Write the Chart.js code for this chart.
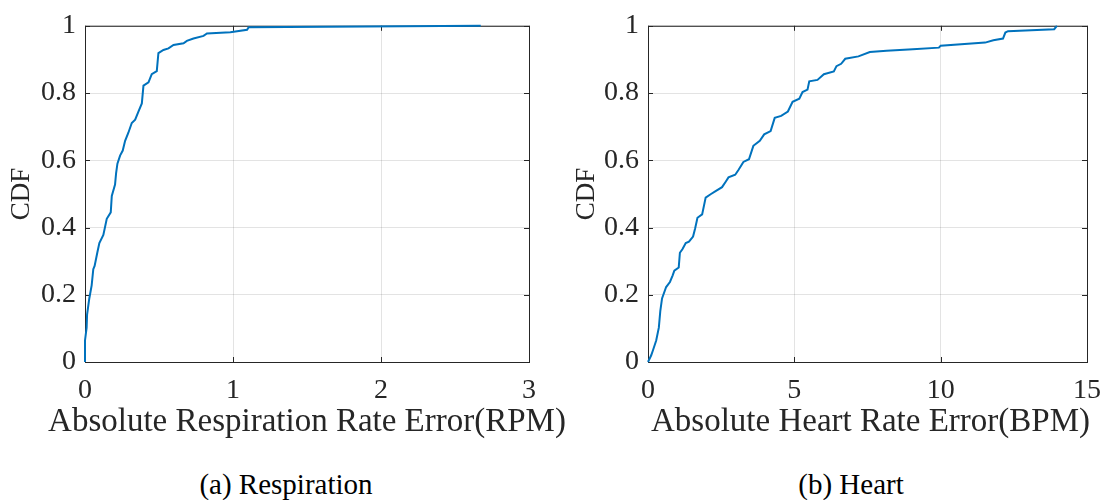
<!DOCTYPE html>
<html>
<head>
<meta charset="utf-8">
<script src="https://cdn.jsdelivr.net/npm/chart.js@4.4.1/dist/chart.umd.min.js"></script>
<style>
  body { margin: 0; background: #fff; width: 1113px; height: 500px; overflow: hidden; position: relative; }
  .panel { position: absolute; top: 0; height: 460px; }
  #respBox { left: 0; width: 580px; }
  #heartBox { left: 560px; width: 553px; }
  .caption {
    position: absolute; top: 470px; transform: translateX(-50%);
    font-family: "Liberation Serif", serif; font-size: 29px; line-height: 29px;
    color: #000; white-space: nowrap;
  }
</style>
</head>
<body>
<div class="panel" id="respBox"><canvas id="respChart"></canvas></div>
<div class="panel" id="heartBox"><canvas id="heartChart"></canvas></div>
<div class="caption" style="left:286px">(a) Respiration</div>
<div class="caption" style="left:851px">(b) Heart</div>

<script>
// sorted absolute errors and their cumulative fraction
const respErr = [0, 0.0, 0.011, 0.014, 0.029, 0.045, 0.056, 0.065, 0.083, 0.097,
  0.124, 0.147, 0.174, 0.181, 0.203, 0.21, 0.219, 0.237, 0.255, 0.271,
  0.293, 0.316, 0.339, 0.361, 0.384, 0.395, 0.429, 0.451, 0.485, 0.496,
  0.53, 0.564, 0.598, 0.666, 0.688, 0.733, 0.801, 0.824, 0.982, 1.095,
  1.106, 2.674];
const respCdf = [0, 0.064, 0.102, 0.141, 0.189, 0.228, 0.276, 0.286, 0.325, 0.354,
  0.378, 0.426, 0.445, 0.494, 0.528, 0.561, 0.59, 0.614, 0.629, 0.658,
  0.682, 0.711, 0.721, 0.745, 0.769, 0.822, 0.832, 0.856, 0.865, 0.919,
  0.928, 0.933, 0.943, 0.948, 0.955, 0.962, 0.97, 0.977, 0.981, 0.988,
  0.996, 1.0];

const heartErr = [0, 0.11, 0.17, 0.28, 0.37, 0.42, 0.48, 0.62, 0.75, 0.84,
  0.90, 1.05, 1.09, 1.18, 1.29, 1.40, 1.54, 1.61, 1.69, 1.85,
  1.97, 2.14, 2.31, 2.53, 2.66, 2.75, 2.98, 3.09, 3.26, 3.45,
  3.60, 3.82, 3.97, 4.19, 4.33, 4.55, 4.78, 4.94, 5.17, 5.28,
  5.45, 5.51, 5.79, 6.01, 6.35, 6.44, 6.60, 6.74, 7.19, 7.58,
  8.15, 9.05, 9.94, 10.0, 11.52, 11.80, 12.13, 12.21, 12.30, 13.88,
  13.97];
const heartCdf = [0, 0.02, 0.035, 0.064, 0.102, 0.151, 0.189, 0.223, 0.238, 0.257,
  0.272, 0.281, 0.325, 0.336, 0.354, 0.358, 0.373, 0.397, 0.429, 0.439,
  0.489, 0.499, 0.508, 0.52, 0.537, 0.549, 0.557, 0.571, 0.595, 0.603,
  0.643, 0.658, 0.677, 0.687, 0.726, 0.732, 0.745, 0.774, 0.783, 0.803,
  0.81, 0.835, 0.839, 0.856, 0.864, 0.88, 0.887, 0.902, 0.909, 0.922,
  0.926, 0.930, 0.935, 0.941, 0.95, 0.957, 0.962, 0.98, 0.984, 0.99,
  1.0];

const cdfTicks = [0, 0.2, 0.4, 0.6, 0.8, 1];
const respTicks = [0, 1, 2, 3];
const heartTicks = [0, 5, 10, 15];

const axisColor = '#262626';
const gridColor = 'rgba(38,38,38,0.13)';
const serif = '"Liberation Serif", serif';

// closed box with short inward tick marks on all four sides
const boxTicks = {
  id: 'boxTicks',
  beforeDatasetsDraw(chart) {
    const { ctx, chartArea: a, scales: { x, y } } = chart;
    const len = 5;
    ctx.save();
    ctx.strokeStyle = axisColor;
    ctx.lineWidth = 1;
    ctx.beginPath();
    x.ticks.forEach(t => {
      const px = Math.round(x.getPixelForValue(t.value)) + 0.5;
      ctx.moveTo(px, a.bottom); ctx.lineTo(px, a.bottom - len);
      ctx.moveTo(px, a.top); ctx.lineTo(px, a.top + len);
    });
    y.ticks.forEach(t => {
      const py = Math.round(y.getPixelForValue(t.value)) + 0.5;
      ctx.moveTo(a.left, py); ctx.lineTo(a.left + len, py);
      ctx.moveTo(a.right, py); ctx.lineTo(a.right - len, py);
    });
    ctx.stroke();
    ctx.strokeRect(a.left + 0.5, a.top + 0.5, a.right - a.left, a.bottom - a.top);
    ctx.restore();
  }
};

// x-axis title drawn at full width, even past the plot edges
const wideTitle = {
  id: 'wideTitle',
  afterDraw(chart, args, opts) {
    const { ctx, chartArea: a } = chart;
    ctx.save();
    ctx.fillStyle = axisColor;
    ctx.font = '33px ' + serif;
    ctx.textAlign = 'center';
    ctx.textBaseline = 'alphabetic';
    ctx.fillText(opts.text, (a.left + a.right) / 2 + (opts.shift || 0), opts.baseline);
    ctx.restore();
  }
};

function makeCdf(id, xs, ys, xTicks, xTitle, yWidth, padRight, yTitlePad, shift) {
  const pts = xs.map((v, i) => ({ x: v, y: ys[i] }));
  return new Chart(document.getElementById(id), {
    type: 'line',
    data: {
      datasets: [{
        data: pts,
        borderColor: '#0072BD',
        borderWidth: 2,
        pointRadius: 0,
        tension: 0,
        clip: false
      }]
    },
    options: {
      responsive: true,
      maintainAspectRatio: false,
      animation: false,
      layout: { padding: { top: 17, right: padRight, left: 0, bottom: 0 } },
      plugins: {
        legend: { display: false },
        tooltip: { enabled: false },
        wideTitle: { text: xTitle, baseline: 431, shift: shift }
      },
      scales: {
        x: {
          type: 'linear',
          min: xTicks[0],
          max: xTicks[xTicks.length - 1],
          afterBuildTicks: s => { s.ticks = xTicks.map(v => ({ value: v })); },
          afterFit: s => { s.height = 98; },
          grid: { color: gridColor, drawTicks: false },
          border: { display: false },
          ticks: {
            padding: 12,
            maxRotation: 0,
            color: axisColor,
            font: { family: serif, size: 28 }
          }
        },
        y: {
          min: 0,
          max: 1,
          afterBuildTicks: s => { s.ticks = cdfTicks.map(v => ({ value: v })); },
          afterFit: s => { s.width = yWidth; },
          grid: { color: gridColor, drawTicks: false },
          border: { display: false },
          ticks: {
            padding: 9,
            color: axisColor,
            font: { family: serif, size: 28 },
            callback: v => String(+v.toFixed(1))
          },
          title: {
            display: true,
            text: 'CDF',
            color: axisColor,
            font: { family: serif, size: 27 },
            padding: { top: yTitlePad, bottom: 0 }
          }
        }
      }
    },
    plugins: [boxTicks, wideTitle]
  });
}

makeCdf('respChart', respErr, respCdf, respTicks,
  'Absolute Respiration Rate Error(RPM)', 85, 51, 5.6, 0);
makeCdf('heartChart', heartErr, heartCdf, heartTicks,
  'Absolute Heart Rate Error(BPM)', 88, 20, 10.6, 3);
</script>
</body>
</html>
